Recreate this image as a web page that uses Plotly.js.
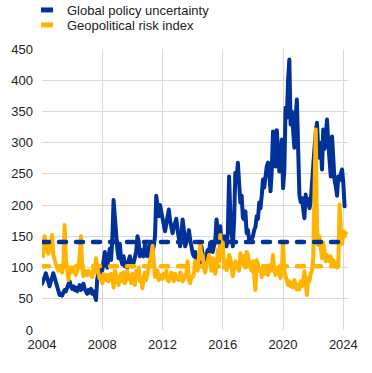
<!DOCTYPE html>
<html>
<head>
<meta charset="utf-8">
<script src="https://cdn.plot.ly/plotly-3.0.1.min.js"></script>
<style>
  html, body { margin: 0; padding: 0; background: #fff; }
  #chart { width: 372px; height: 373px; }
  .js-line { stroke-linejoin: round !important; stroke-linecap: round !important; }
</style>
</head>
<body>
<div id="chart"></div>
<script>
// Monthly data, January 2004 onwards
const startYear = 2004;

const seriesNames = ["Global policy uncertainty", "Geopolitical risk index"];

const globalPolicyUncertainty = [
  74, 78, 84, 91, 86, 78, 70, 76, 85, 91, 84, 76,        // 2004
  72, 62, 56, 58, 55, 60, 64, 62, 68, 72, 78, 70,        // 2005
  66, 70, 64, 68, 62, 66, 72, 64, 70, 74, 66, 60,        // 2006
  58, 64, 60, 66, 58, 62, 55, 48, 82, 92, 84, 100,       // 2007
  95, 110, 125, 105, 100, 118, 130, 112, 145, 208, 175, 140, // 2008
  130, 115, 138, 112, 105, 118, 102, 108, 100, 112, 118, 105, // 2009
  102, 108, 115, 125, 150, 142, 118, 128, 122, 118, 138, 132, // 2010
  118, 122, 138, 120, 128, 134, 150, 215, 198, 182, 200, 188, // 2011
  185, 165, 158, 170, 185, 193, 175, 160, 155, 165, 172, 178, // 2012
  160, 145, 134, 155, 177, 160, 134, 140, 150, 160, 145, 128, // 2013
  123, 118, 125, 112, 105, 102, 110, 134, 120, 107, 112, 120, // 2014
  128, 125, 140, 130, 125, 135, 142, 177, 160, 145, 166, 134, // 2015
  134, 150, 140, 134, 155, 246, 185, 160, 134, 175, 252, 240, // 2016
  268, 235, 204, 215, 180, 177, 190, 155, 160, 145, 148, 145, // 2017
  150, 160, 165, 182, 178, 204, 195, 215, 241, 228, 250, 262, // 2018
  268, 254, 222, 255, 318, 290, 262, 320, 295, 254, 268, 305, // 2019
  227, 255, 356, 340, 400, 433, 329, 350, 320, 292, 340, 369, // 2020
  292, 217, 205, 211, 195, 179, 217, 201, 210, 195, 205, 240, // 2021
  265, 290, 315, 332, 290, 276, 300, 257, 321, 290, 310, 337, // 2022
  300, 280, 246, 310, 270, 240, 230, 215, 246, 240, 250, 257, // 2023
  235, 198                                                     // 2024
];

const geopoliticalRisk = [
  126, 118, 150, 140, 128, 122, 130, 138, 152, 120, 110, 106, // 2004
  100, 95, 102, 98, 92, 105, 168, 115, 95, 80, 100, 92,       // 2005
  100, 95, 92, 88, 95, 100, 120, 150, 100, 86, 95, 90,        // 2006
  88, 95, 92, 90, 85, 98, 92, 115, 95, 90, 82, 86,            // 2007
  75, 90, 85, 80, 88, 78, 82, 90, 85, 68, 95, 88,             // 2008
  80, 72, 85, 90, 78, 92, 75, 80, 95, 82, 88, 75,             // 2009
  90, 80, 72, 95, 85, 100, 78, 82, 67, 85, 92, 80,            // 2010
  88, 100, 112, 118, 135, 100, 85, 90, 95, 80, 88, 85,        // 2011
  82, 90, 85, 95, 80, 78, 88, 92, 85, 78, 90, 82,             // 2012
  85, 80, 92, 88, 78, 82, 85, 90, 110, 80, 75, 85,            // 2013
  85, 90, 110, 105, 95, 123, 139, 115, 120, 100, 92, 105,     // 2014
  110, 120, 100, 95, 115, 105, 90, 100, 128, 110, 152, 125,   // 2015
  140, 100, 110, 96, 105, 120, 115, 95, 86, 100, 110, 105,    // 2016
  100, 95, 123, 115, 105, 118, 100, 125, 120, 108, 100, 95,   // 2017
  110, 92, 64, 112, 100, 95, 98, 85, 92, 100, 90, 95,         // 2018
  88, 100, 104, 95, 120, 98, 88, 95, 100, 92, 83, 95,         // 2019
  139, 94, 85, 80, 72, 78, 70, 75, 68, 80, 72, 65,            // 2020
  72, 65, 78, 70, 80, 94, 75, 56, 83, 78, 90, 95,             // 2021
  115, 200, 321, 163, 136, 150, 130, 115, 140, 126, 110, 120, // 2022
  115, 110, 118, 105, 112, 104, 108, 100, 102, 201, 163, 138, // 2023
  158, 150, 155                                               // 2024
];

// Long-term averages (dashed lines)
const averageGlobalPolicyUncertainty = 141;
const averageGeopoliticalRisk = 102;

const xTickValues = [2004, 2008, 2012, 2016, 2020, 2024];
const xTickLabels = ["2004", "2008", "2012", "2016", "2020", "2024"];

const blue = "#003299";
const yellow = "#FFB400";

function monthAxis(n) {
  const xs = [];
  for (let i = 0; i < n; i++) xs.push(startYear + i / 12);
  return xs;
}
const xBlue = monthAxis(globalPolicyUncertainty.length);
const xYellow = monthAxis(geopoliticalRisk.length);
const xStart = xBlue[0];
const xEnd = xBlue[xBlue.length - 1];

const traces = [
  { x: xBlue, y: globalPolicyUncertainty, type: "scatter", mode: "lines",
    line: { color: blue, width: 4 }, showlegend: false, hoverinfo: "skip" },
  { x: xYellow, y: geopoliticalRisk, type: "scatter", mode: "lines",
    line: { color: yellow, width: 4 }, showlegend: false, hoverinfo: "skip" },
  { x: [xStart, xEnd], y: [averageGeopoliticalRisk, averageGeopoliticalRisk], type: "scatter", mode: "lines",
    line: { color: yellow, width: 4.5, dash: "7px,10px" }, showlegend: false, hoverinfo: "skip" },
  { x: [xStart, xEnd], y: [averageGlobalPolicyUncertainty, averageGlobalPolicyUncertainty], type: "scatter", mode: "lines",
    line: { color: blue, width: 4.5, dash: "7px,10px" }, showlegend: false, hoverinfo: "skip" },
  // legend entries
  { x: [null], y: [null], type: "scatter", mode: "markers", name: seriesNames[0], legend: "legend",
    marker: { symbol: "line-ew", size: 8.6, color: blue, line: { color: blue, width: 5 } } },
  { x: [null], y: [null], type: "scatter", mode: "markers", name: seriesNames[1], legend: "legend2",
    marker: { symbol: "line-ew", size: 8.6, color: yellow, line: { color: yellow, width: 5 } } }
];

const font = { family: "Liberation Sans, Arial, sans-serif", size: 13, color: "#222" };

const layout = {
  width: 372, height: 373,
  margin: { l: 42, r: 24, t: 49, b: 43, pad: 0, autoexpand: false },
  paper_bgcolor: "#fff", plot_bgcolor: "#fff",
  font: font,
  showlegend: true,
  legend: { x: -0.049, xanchor: "left", y: 1.1388, yanchor: "middle",
            bgcolor: "rgba(0,0,0,0)", borderwidth: 0, font: font },
  legend2: { x: -0.049, xanchor: "left", y: 1.0854, yanchor: "middle",
             bgcolor: "rgba(0,0,0,0)", borderwidth: 0, font: font },
  xaxis: {
    range: [2004, 2024.31], tickmode: "array", tickvals: xTickValues, ticktext: xTickLabels,
    showgrid: true, gridcolor: "#d9d9d9", gridwidth: 1, zeroline: false, showline: false,
    ticks: "", ticklabelstandoff: 5, tickfont: font, fixedrange: true, automargin: false
  },
  yaxis: {
    range: [0, 450], dtick: 50, tick0: 0, showgrid: true, gridcolor: "#d9d9d9", gridwidth: 1,
    zeroline: false, showline: false, ticks: "", ticklabelstandoff: 8, tickfont: font, fixedrange: true, automargin: false
  }
};

Plotly.newPlot("chart", traces, layout, { displayModeBar: false, staticPlot: true });
</script>
</body>
</html>
